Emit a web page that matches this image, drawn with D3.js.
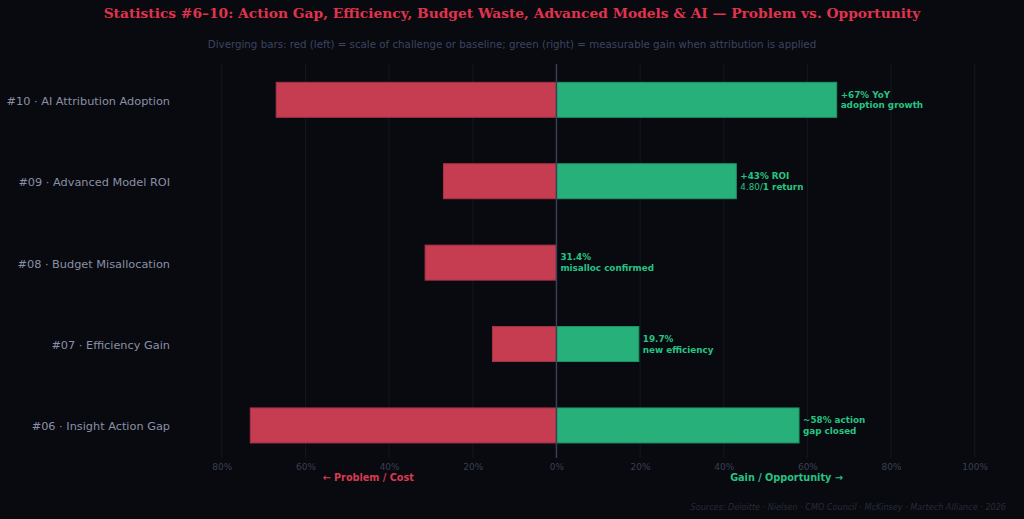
<!DOCTYPE html>
<html>
<head>
<meta charset="utf-8">
<script src="https://cdn.jsdelivr.net/npm/d3@7"></script>
<style>
  html, body { margin: 0; padding: 0; background: #080a0f; }
  svg { display: block; }
</style>
</head>
<body>
<div class="chart"></div>
<script>
// データ（上から順）
const categories = [
  "#10 · AI Attribution Adoption",
  "#09 · Advanced Model ROI",
  "#08 · Budget Misallocation",
  "#07 · Efficiency Gain",
  "#06 · Insight Action Gap"
];
const problemValues = [67, 27, 31.4, 15.3, 73.2];
const gainValues = [67, 43, 0, 19.7, 58];
const gainLabels = [
  ["+67% YoY", "adoption growth"],
  ["+43% ROI", "4.80/|1 return"],
  ["31.4%", "misalloc confirmed"],
  ["19.7%", "new efficiency"],
  ["~58% action", "gap closed"]
];
const tickValues = [-80, -60, -40, -20, 0, 20, 40, 60, 80, 100];

const W = 1024, H = 519;
const plot = { left: 180, right: 1004, top: 64, bottom: 458 };

const svg = d3.select(".chart").append("svg")
  .attr("width", W).attr("height", H);

svg.append("rect").attr("width", W).attr("height", H).attr("fill", "#080a0f");

// スケール
const x = d3.scaleLinear().domain([-90, 107]).range([plot.left, plot.right]);
const y = d3.scaleLinear().domain([-0.44, 4.4]).range([plot.top, plot.bottom]);
const barH = 35;

// グリッド
svg.selectAll(".grid").data(tickValues).enter().append("line")
  .attr("x1", d => x(d)).attr("x2", d => x(d))
  .attr("y1", plot.top).attr("y2", plot.bottom)
  .attr("stroke", "#141720").attr("stroke-width", 1);

// 軸
const xAxis = d3.axisBottom(x).tickValues(tickValues)
  .tickSize(0).tickPadding(6)
  .tickFormat(d => Math.abs(d) + "%");
const gx = svg.append("g")
  .attr("transform", `translate(0,${plot.bottom})`)
  .call(xAxis);
gx.select(".domain").remove();
gx.selectAll("text")
  .attr("fill", "#3a3f55")
  .style("font-family", "DejaVu Sans")
  .style("font-size", "9px");

// 赤いバー
svg.selectAll(".bar-red").data(problemValues).enter().append("rect")
  .attr("x", d => x(-d)).attr("width", d => x(0) - x(-d))
  .attr("y", (d, i) => y(i) - barH / 2).attr("height", barH)
  .attr("fill", "#c63c51").attr("stroke", "#a8334a").attr("stroke-width", 1);

// 緑のバー
svg.selectAll(".bar-green").data(gainValues).enter().append("rect")
  .attr("x", x(0)).attr("width", d => x(d) - x(0))
  .attr("y", (d, i) => y(i) - barH / 2).attr("height", barH)
  .attr("fill", "#28b07b").attr("stroke", "#1f9466").attr("stroke-width", d => d > 0 ? 1 : 0);

// ゼロ線
svg.append("line")
  .attr("x1", x(0)).attr("x2", x(0))
  .attr("y1", plot.top).attr("y2", plot.bottom)
  .attr("stroke", "#3a3f55").attr("stroke-width", 1.5);

// カテゴリラベル
svg.selectAll(".cat").data(categories).enter().append("text")
  .attr("x", 170).attr("y", (d, i) => y(i) + 1)
  .attr("dy", "0.35em").attr("text-anchor", "end")
  .attr("fill", "#8a90a6")
  .style("font-family", "DejaVu Sans").style("font-size", "11.3px")
  .text(d => d);

// 値ラベル
const lab = svg.selectAll(".val").data(gainLabels).enter().append("text")
  .attr("x", (d, i) => x(gainValues[i]) + 4)
  .attr("y", (d, i) => y(i))
  .attr("fill", "#27c383")
  .style("font-family", "DejaVu Sans").style("font-size", "8.8px")
  .style("font-weight", "bold");
lab.append("tspan").attr("x", (d, i) => x(gainValues[i]) + 4).attr("dy", "-0.25em")
  .text(d => d[0]);
lab.each(function(d, i) {
  const t = d3.select(this).append("tspan")
    .attr("x", x(gainValues[i]) + 4).attr("dy", "1.22em");
  const parts = d[1].split("|");
  if (parts.length > 1) {
    t.append("tspan").style("font-weight", "normal").text(parts[0]);
    t.append("tspan").text(parts[1]);
  } else {
    t.text(parts[0]);
  }
});

// 方向ラベル
svg.append("text").attr("x", x(-45)).attr("y", 481).attr("text-anchor", "middle")
  .attr("fill", "#d83a50").style("font-family", "DejaVu Sans").style("font-size", "9.7px")
  .style("font-weight", "bold").text("← Problem / Cost");
svg.append("text").attr("x", x(55)).attr("y", 481).attr("text-anchor", "middle")
  .attr("fill", "#27c383").style("font-family", "DejaVu Sans").style("font-size", "9.7px")
  .style("font-weight", "bold").text("Gain / Opportunity →");

// タイトル
svg.append("text").attr("x", W / 2).attr("y", 18).attr("text-anchor", "middle")
  .attr("fill", "#e0334d").style("font-family", "DejaVu Serif").style("font-size", "13.8px")
  .style("font-weight", "bold")
  .text("Statistics #6–10: Action Gap, Efficiency, Budget Waste, Advanced Models & AI — Problem vs. Opportunity");
svg.append("text").attr("x", W / 2).attr("y", 48).attr("text-anchor", "middle")
  .attr("fill", "#3d4460").style("font-family", "DejaVu Sans").style("font-size", "10.27px")
  .text("Diverging bars: red (left) = scale of challenge or baseline; green (right) = measurable gain when attribution is applied");

// 出典
svg.append("text").attr("x", 1006).attr("y", 510).attr("text-anchor", "end")
  .attr("fill", "#262b3b").style("font-family", "DejaVu Sans").style("font-size", "8.1px")
  .style("font-style", "italic")
  .text("Sources: Deloitte · Nielsen · CMO Council · McKinsey · Martech Alliance · 2026");
</script>
</body>
</html>
